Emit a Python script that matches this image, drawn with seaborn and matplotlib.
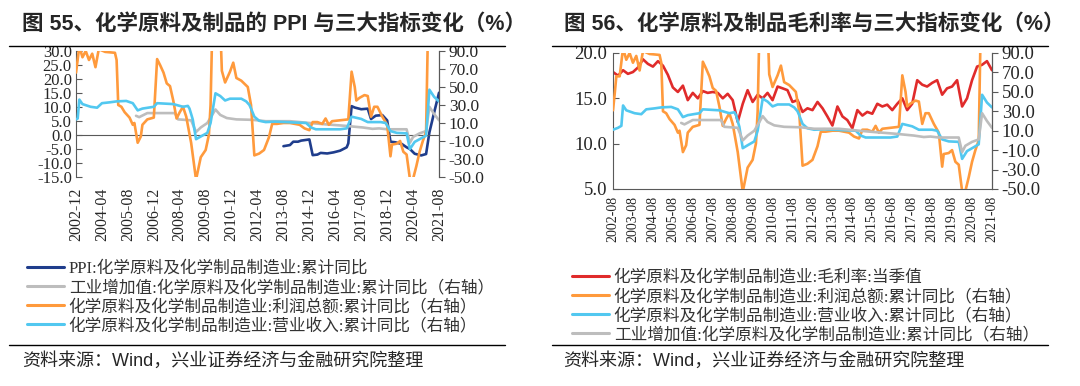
import numpy as np
import pandas as pd
import seaborn as sns
import matplotlib
matplotlib.use("Agg")
import matplotlib.pyplot as plt
import matplotlib.dates as mdates
from matplotlib.lines import Line2D
from matplotlib.ticker import FormatStrFormatter

sns.set_style("white")
# serif first (tick labels, latin in legends), CJK fallback
plt.rcParams['font.family'] = ['Liberation Serif', 'Noto Sans CJK SC', 'DejaVu Sans']
plt.rcParams['axes.unicode_minus'] = False
sans = ['Liberation Sans', 'Noto Sans CJK SC', 'DejaVu Sans']

#%% data
# 利润总额 累计同比 (%, right axis in both charts)
profit_dates = ["2002-08", "2002-09", "2002-10", "2002-12", "2003-02", "2003-04", "2003-06", "2003-08",
                "2003-10", "2003-12", "2004-02", "2004-06", "2004-12", "2005-01", "2005-02", "2005-04",
                "2005-06", "2005-09", "2005-11", "2005-12", "2006-02", "2006-04", "2006-05", "2006-08",
                "2006-12", "2007-02", "2007-04", "2007-06", "2007-08", "2007-10", "2007-12", "2008-02",
                "2008-04", "2008-06", "2008-08", "2008-11", "2009-02", "2009-05", "2009-08", "2009-10",
                "2009-11", "2009-12", "2010-02", "2010-05", "2010-06", "2010-08", "2010-11", "2011-01",
                "2011-03", "2011-06", "2011-10", "2011-12", "2012-02", "2012-05", "2012-08", "2012-11",
                "2013-01", "2013-04", "2013-08", "2013-12", "2014-06", "2014-09", "2014-12", "2015-02",
                "2015-05", "2015-08", "2015-10", "2015-12", "2016-02", "2016-07", "2016-12", "2017-02",
                "2017-04", "2017-05", "2017-07", "2017-10", "2017-12", "2018-02", "2018-04", "2018-06",
                "2018-09", "2018-12", "2019-02", "2019-03", "2019-06", "2019-08", "2019-10", "2019-12",
                "2020-02", "2020-04", "2020-06", "2020-08", "2020-10", "2020-12", "2021-02", "2021-05",
                "2021-08"]
profit = [31, 48, 66, 66, 95, 83, 90, 80,
          87, 72, 92, 89, 88, 80, 30, 28,
          22, 16, 8, 10, -12, -5, 8, 14,
          16, 81, 74, 66, 54, 51, 35, 15,
          22, 28, 17, -12, -53, -28, -20, -3,
          30, 110, 160, 120, 68, 55, 67, 77,
          60, 57, 50, 30, -26, -24, -20, -6,
          9, 9, 10, 10, 8, 4, 2, 11,
          11, 9, 15, 8, 12, 13, 14, 67,
          50, 35, 38, 41, 40, 17, 28, 28,
          17, 8, -27, -14, -13, -10, -22, -25,
          -52, -52, -38, -22, -10, 0, 200, 180,
          150]

# 营业收入 累计同比 (%, right axis)
revenue_dates = ["2002-08", "2002-11", "2003-01", "2003-02", "2003-04", "2003-09", "2004-01", "2004-04",
                 "2004-09", "2005-01", "2005-07", "2005-11", "2006-02", "2006-05", "2006-12", "2007-02",
                 "2007-12", "2008-06", "2008-09", "2008-10", "2008-11", "2008-12", "2009-02", "2009-05",
                 "2009-09", "2009-11", "2010-02", "2010-05", "2010-08", "2010-11", "2011-02", "2011-06",
                 "2011-09", "2011-11", "2011-12", "2012-02", "2012-05", "2012-09", "2013-03", "2013-09",
                 "2014-03", "2014-10", "2015-01", "2015-04", "2015-09", "2016-01", "2016-07", "2016-11",
                 "2017-02", "2017-08", "2017-12", "2018-08", "2018-11", "2019-02", "2019-06", "2019-12",
                 "2020-02", "2020-05", "2020-09", "2020-12", "2021-02", "2021-05", "2021-08"]
revenue = [11, 13, 15, 36, 31, 28, 27, 32,
           33, 34, 34.5, 32, 24, 26, 28, 32,
           31, 28, 29, 26, 20, 14, -8, -5,
           -1, 10, 43, 40, 35, 37, 37, 37,
           34, 30, 26, 17, 12.5, 11, 11.5, 11,
           10.5, 10, 5, 3, 3, 3, 3, 4,
           17, 14.5, 11, 11, 10, 1, -1, -1.5,
           -19, -11, -7, -4, 47, 39, 34]

# 工业增加值 累计同比 (%, right axis)
va_dates = ["2006-01", "2006-03", "2006-08", "2007-06", "2008-01", "2008-03", "2008-11", "2009-02",
            "2009-05", "2009-09", "2010-02", "2010-05", "2010-09", "2011-03", "2012-01", "2012-09",
            "2013-12", "2014-12", "2015-10", "2016-09", "2017-09", "2018-03", "2018-07", "2018-12",
            "2019-12", "2020-02", "2020-04", "2020-08", "2020-12", "2021-02", "2021-05", "2021-08"]
value_added = [18, 16.5, 21, 21, 21, 14, 13, 0,
               5, 10, 25, 19, 15.5, 14, 13.5, 12,
               12, 10, 8.5, 7, 5, 3.5, 4, 3,
               3, -12, -5.5, -1.5, 1, 28, 20, 13]

# PPI 累计同比 (%, left axis of chart 55)
ppi_dates = ["2013-08", "2013-12", "2014-02", "2014-05", "2014-07", "2014-12", "2015-02", "2015-05",
             "2015-07", "2015-11", "2016-03", "2016-07", "2016-11", "2016-12", "2017-02", "2017-04",
             "2017-08", "2017-12", "2018-02", "2018-05", "2018-09", "2018-12", "2019-02", "2019-05",
             "2019-09", "2019-12", "2020-02", "2020-05", "2020-09", "2020-12", "2021-02", "2021-05",
             "2021-08"]
ppi = [-4.0, -3.6, -2.4, -2.4, -2.0, -1.6, -7.2, -7.0,
       -6.4, -6.6, -6.2, -5.6, -4.4, -3.0, 10.3, 9.8,
       9.2, 9.4, 5.7, 6.9, 7.1, 5.2, -2.4, -2.6,
       -3.2, -4.4, -5.0, -6.7, -7.3, -6.8, 0.9, 8.0,
       15.1]

# 毛利率 当季值 (%, left axis of chart 56), quarterly from 2002-08
margin = [17.9, 17.5, 18.1, 17.7, 17.9, 18.4, 19.3, 18.8, 18.5, 19.1,
          18.6, 17.6, 16.2, 15.7, 16.4, 14.8, 15.6, 15.0, 15.8, 15.6,
          15.7, 15.6, 15.0, 15.5, 14.8, 12.4, 14.4, 15.9, 14.6, 15.4,
          15.0, 15.6, 14.8, 16.3, 16.1, 15.9, 14.6, 14.8, 13.5, 13.9,
          13.7, 14.6, 13.9, 13.0, 12.0, 14.1, 13.0, 12.6, 11.7, 13.7,
          13.1, 13.5, 13.3, 14.4, 14.1, 14.3, 13.7, 14.4, 15.0, 13.7,
          14.4, 17.0, 16.5, 16.3, 16.7, 17.0, 15.4, 16.1, 16.3, 17.0,
          14.1, 15.0, 17.0, 18.5, 18.7, 19.1, 18.1]
margin_dates = pd.date_range("2002-08-01", periods=len(margin), freq="3MS").strftime("%Y-%m")

xt_left = ["2002-12", "2004-04", "2005-08", "2006-12", "2008-04", "2009-08", "2010-12", "2012-04",
           "2013-08", "2014-12", "2016-04", "2017-08", "2018-12", "2020-04", "2021-08"]
xt_right = ["2002-08", "2003-08", "2004-08", "2005-08", "2006-08", "2007-08", "2008-08", "2009-08",
            "2010-08", "2011-08", "2012-08", "2013-08", "2014-08", "2015-08", "2016-08", "2017-08",
            "2018-08", "2019-08", "2020-08", "2021-08"]

lab_ppi = "PPI:化学原料及化学制品制造业:累计同比"
lab_va = "工业增加值:化学原料及化学制品制造业:累计同比（右轴）"
lab_profit = "化学原料及化学制品制造业:利润总额:累计同比（右轴）"
lab_rev = "化学原料及化学制品制造业:营业收入:累计同比（右轴）"
lab_margin = "化学原料及化学制品制造业:毛利率:当季值"

c_ppi = "#1f3d8c"
c_va = "#bdbdbd"
c_profit = "#ff9a3c"
c_rev = "#52c8f0"
c_margin = "#e02b2b"
c_axis = "#595959"
c_text = "#262626"
lw = 1.9


def to_num(dates):
    return mdates.date2num(pd.to_datetime(list(dates), format="%Y-%m"))


def frame(dates, vals):
    return pd.DataFrame({'x': to_num(dates), 'y': vals})


def draw(ax, dates, vals, color):
    sns.lineplot(data=frame(dates, vals), x='x', y='y', ax=ax, color=color,
                 linewidth=lw, estimator=None, legend=False)
    return Line2D([0], [0], color=color, lw=2.2)


def style_y(ax):
    ax.yaxis.set_major_formatter(FormatStrFormatter('%.1f'))
    ax.set_ylabel('')
    ax.set_xlabel('')


fig = plt.figure(figsize=(10.8, 3.86), dpi=100)
fig.patch.set_facecolor('white')

#%% chart 55
ax1 = fig.add_axes([0.0704, 0.5415, 0.3361, 0.3264])
ax1b = ax1.twinx()
h_ppi = draw(ax1, ppi_dates, ppi, c_ppi)
h_va = draw(ax1b, va_dates, value_added, c_va)
h_pr = draw(ax1b, profit_dates, profit, c_profit)
h_rv = draw(ax1b, revenue_dates, revenue, c_rev)

x0, x1 = to_num(["2002-12", "2021-08"])
ax1.set_xlim(x0, x1)
ax1.set_ylim(-15, 30)
ax1.set_yticks(np.arange(-15, 31, 5))
ax1b.set_ylim(-50, 90)
ax1b.set_yticks(np.arange(-50, 91, 20))
style_y(ax1)
style_y(ax1b)

ax1.set_xticks(to_num(xt_left))
ax1.spines['bottom'].set_position(('data', 0))
ax1.tick_params(axis='x', direction='in', length=4, color=c_axis, labelbottom=False)
ax1.spines['top'].set_visible(False)
for s in ['top', 'bottom', 'left']:
    ax1b.spines[s].set_visible(False)
for s in ['bottom', 'left']:
    ax1.spines[s].set_color(c_axis)
ax1b.spines['right'].set_color(c_axis)
ax1.tick_params(axis='y', direction='in', length=4, color=c_axis, labelsize=12,
                labelcolor=c_text, pad=3)
ax1b.tick_params(axis='y', direction='out', length=4, color=c_axis, labelsize=12.5,
                 labelcolor=c_text, pad=3)

sec1 = ax1.secondary_xaxis('bottom')
sec1.set_xticks(to_num(xt_left))
sec1.set_xticklabels(xt_left, rotation=90)
sec1.spines['bottom'].set_visible(False)
sec1.tick_params(length=0, pad=8, labelsize=11.5, labelcolor=c_text)

#%% chart 56
ax2 = fig.add_axes([0.5676, 0.5104, 0.3509, 0.3523])
ax2b = ax2.twinx()
h_mg = draw(ax2, margin_dates, margin, c_margin)
draw(ax2b, profit_dates, profit, c_profit)
draw(ax2b, revenue_dates, revenue, c_rev)
draw(ax2b, va_dates, value_added, c_va)

x0, x1 = to_num(["2002-08", "2021-08"])
ax2.set_xlim(x0, x1)
ax2.set_ylim(5, 20)
ax2.set_yticks([5, 10, 15, 20])
ax2b.set_ylim(-50, 90)
ax2b.set_yticks(np.arange(-50, 91, 20))
style_y(ax2)
style_y(ax2b)
ax2.set_xticks(to_num(xt_right))
ax2.set_xticklabels(xt_right, rotation=90)
ax2.spines['top'].set_visible(False)
for s in ['top', 'bottom', 'left']:
    ax2b.spines[s].set_visible(False)
for s in ['bottom', 'left']:
    ax2.spines[s].set_color(c_axis)
ax2b.spines['right'].set_color(c_axis)
ax2.tick_params(axis='x', direction='in', length=4, color=c_axis, labelsize=10,
                labelcolor=c_text, pad=5)
ax2.tick_params(axis='y', direction='in', length=4, color=c_axis, labelsize=13.5,
                labelcolor=c_text, pad=4)
ax2b.tick_params(axis='y', direction='out', length=4, color=c_axis, labelsize=13.5,
                 labelcolor=c_text, pad=3)

#%% titles, legends, footers
W, H = 1080.0, 386.0


def fx(px):
    return px / W


def fy(py):
    return 1 - py / H


fig.text(fx(22), fy(24), "图 55、化学原料及制品的 PPI 与三大指标变化（%）",
         fontsize=15.5, fontweight='bold', va='center', ha='left', family=sans)
fig.text(fx(564), fy(24), "图 56、化学原料及制品毛利率与三大指标变化（%）",
         fontsize=15.5, fontweight='bold', va='center', ha='left', family=sans)

for a, b in [(9, 505), (552, 1048)]:
    fig.add_artist(Line2D([fx(a), fx(b)], [fy(46), fy(46)], transform=fig.transFigure,
                          color='black', lw=1.0))
    fig.add_artist(Line2D([fx(a), fx(b)], [fy(345), fy(345)], transform=fig.transFigure,
                          color='black', lw=1.0))

leg_kw = dict(loc='upper left', frameon=False, fontsize=12, handlelength=2.2,
              handletextpad=0.3, labelspacing=0.18, borderpad=0, borderaxespad=0,
              labelcolor='#333333')
fig.legend([h_ppi, h_va, h_pr, h_rv], [lab_ppi, lab_va, lab_profit, lab_rev],
           bbox_to_anchor=(fx(27), fy(261)), **leg_kw)
fig.legend([h_mg, h_pr, h_rv, h_va], [lab_margin, lab_profit, lab_rev, lab_va],
           bbox_to_anchor=(fx(572), fy(270)), **leg_kw)

src = "资料来源：Wind，兴业证券经济与金融研究院整理"
fig.text(fx(22), fy(361), src, fontsize=13, va='center', ha='left', family=sans)
fig.text(fx(563), fy(361), src, fontsize=13, va='center', ha='left', family=sans)

fig.savefig("out.png", dpi=100, facecolor='white')
